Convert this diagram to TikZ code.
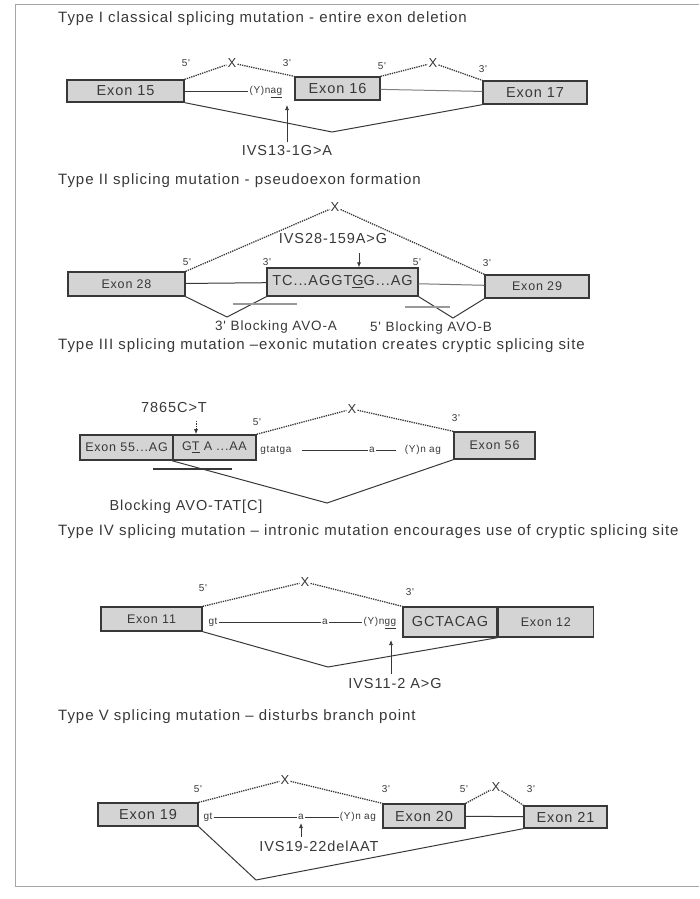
\documentclass[tikz,border=0pt]{standalone}
\usepackage{fontspec}
\newfontfamily\scanfont{Liberation Sans}[LetterSpace=6.5]
\usetikzlibrary{arrows.meta}
\definecolor{exfill}{gray}{0.83}
\definecolor{ink}{gray}{0.22}

\begin{document}
\begin{tikzpicture}[x=1pt,y=-1pt,
  every node/.style={text=ink},
  heading/.style={anchor=west,inner sep=0pt,font=\scanfont\fontsize{15}{18}\selectfont},
  lbl/.style={font=\scanfont\fontsize{14.5}{17}\selectfont},
  lbls/.style={font=\scanfont\fontsize{12.5}{15}\selectfont},
  site/.style={font=\scanfont\fontsize{10}{12}\selectfont,inner sep=1pt,text height=7pt,text depth=2pt},
  cut/.style={font=\scanfont\fontsize{13}{15}\selectfont,inner sep=1pt},
  exon/.style={draw=ink,line width=1.3pt,fill=exfill,inner sep=0pt,lbl},
  skipline/.style={draw=ink,densely dotted,line width=1.3pt},
  conn/.style={draw=ink,line width=1pt},
  mut/.style={draw=ink,line width=0.7pt,-{Latex[length=5pt,width=4pt]}}
]
\useasboundingbox (0,0) rectangle (699,899);
\draw[black!35,line width=0.8pt] (699,4) -- (15,4) -- (15,886) -- (699,886);

\node[heading] (t1) at (58,19) {Type I classical splicing mutation - entire exon deletion};
\node[heading] (t2) at (58,181) {Type II splicing mutation - pseudoexon formation};
\node[heading] (t3) at (58,346) {Type III splicing mutation –exonic mutation creates cryptic splicing site};
\node[heading] (t4) at (58,532) {Type IV splicing mutation – intronic mutation encourages use of cryptic splicing site};
\node[heading] (t5) at (58,717) {Type V splicing mutation – disturbs branch point};

\node[exon,minimum width=117,minimum height=22] (e15) at (125.5,91) {Exon 15};
\node[exon,minimum width=85,minimum height=23] (e16) at (337.5,88.5) {Exon 16};
\node[exon,minimum width=104,minimum height=23] (e17) at (535,92.5) {Exon 17};
\node[site] (p1a) at (186,64) {5'};
\node[cut] (x1a) at (232,63) {X};
\node[site] (p1b) at (287,64) {3'};
\node[site] (p1c) at (382,67) {5'};
\node[cut] (x1b) at (433,63) {X};
\node[site] (p1d) at (483,70) {3'};
\node[site] (yn1) at (266,91) {(Y)n\underline{ag}};
\node[lbl] (ivs1) at (287,151) {IVS13-1G>A};
\coordinate (a1) at (287,105);
\coordinate (v1) at (332,132);
\draw[skipline] (e15.north east) -- (x1a) -- (e16.north west);
\draw[skipline] (e16.north east) -- (x1b) -- (e17.north west);
\draw[conn] (e15.east) -- (yn1.west);
\draw[conn,draw=black!50] (e16) -- (e17);
\draw[conn] (e15.south east) -- (v1) -- (e17.south west);
\draw[mut] (ivs1.north -| a1) -- (a1);

\node[exon,lbls,minimum width=117,minimum height=24] (e28) at (126.5,284) {Exon 28};
\node[exon,minimum width=151,minimum height=28] (pse) at (342.5,282) {TC...AGGT\underline{G}G...AG};
\node[exon,lbls,minimum width=104,minimum height=23] (e29) at (537,286.5) {Exon 29};
\node[cut] (x2) at (335,207) {X};
\node[lbl] (ivs2) at (333,239) {IVS28-159A>G};
\node[site] (p2a) at (187,263) {5'};
\node[site] (p2b) at (267,263) {3'};
\node[site] (p2c) at (417,263) {5'};
\node[site] (p2d) at (487,264) {3'};
\coordinate (a2) at (359,253);
\coordinate (v2a) at (227,317);
\coordinate (v2b) at (453,318);
\draw[skipline] (e28.north east) -- (x2) -- (e29.north west);
\draw[mut] (a2) -- (a2 |- pse.north);
\draw[conn] (e28) -- (pse);
\draw[conn,draw=black!55] (pse) -- (e29);
\draw[conn] (e28.south east) -- (v2a) -- (pse.south west);
\draw[conn] (pse.south east) -- (v2b) -- (e29.south west);
\draw[line width=1.5pt,black!40] (233,304) -- (297,304);
\draw[line width=1.5pt,black!40] (405,307) -- (450,307);
\node[lbl,font=\scanfont\fontsize{13.5}{16}\selectfont] (b2a) at (276,327) {3' Blocking AVO-A};
\node[lbl,font=\scanfont\fontsize{13.5}{16}\selectfont] (b2b) at (431,328) {5' Blocking AVO-B};

\node[exon,lbls,minimum width=93,minimum height=25] (e55) at (126.5,447.5) {Exon 55...AG};
\node[exon,lbls,minimum width=83,minimum height=25,line width=1.6pt] (gta) at (214.5,447.5) {G\underline{T} A ...AA};
\node[exon,lbls,minimum width=81,minimum height=27] (e56) at (494.5,445.5) {Exon 56};
\node[lbl] (c3) at (174,408) {7865C>T};
\node[site] (p3a) at (257,423) {5'};
\node[cut] (x3) at (352,409) {X};
\node[site] (p3b) at (456,419) {3'};
\node[site] (gt3) at (276,450) {gtatga};
\node[site] (br3) at (372,450) {a};
\node[site] (yn3) at (423,450) {(Y)n ag};
\coordinate (a3) at (196,421);
\coordinate (v3) at (327,503);
\draw[skipline] (gta.north east) -- (x3) -- (e56.north west);
\draw[mut,densely dotted] (a3) -- (a3 |- gta.north);
\draw[conn,shorten <=9pt] (gt3) -- (br3);
\draw[conn,shorten >=8pt] (br3) -- (yn3);
\draw[conn] (gta.south west) -- (v3) -- (e56.south west);
\draw[line width=1.4pt,ink] (153,469) -- (232,469);
\node[lbl] (b3) at (186,507) {Blocking AVO-TAT[C]};

\node[exon,lbls,minimum width=101,minimum height=24] (e11) at (151.5,619) {Exon 11};
\node[exon,minimum width=94,minimum height=30] (gct) at (450,622) {GCTACAG};
\node[exon,lbls,minimum width=95,minimum height=30,anchor=west] (e12) at (gct.east) {Exon 12};
\node[site] (p4a) at (203,589) {5'};
\node[cut] (x4) at (305,582) {X};
\node[site] (p4b) at (410,593) {3'};
\node[site] (gt4) at (213,622) {gt};
\node[site] (br4) at (325,622) {a};
\node[site] (yn4) at (380,622) {(Y)n\underline{gg}};
\node[lbl] (ivs4) at (395,683) {IVS11-2 A>G};
\coordinate (a4) at (391,640);
\coordinate (v4) at (328,667);
\draw[skipline] (e11.north east) -- (x4) -- (gct.north west);
\draw[conn] (gt4) -- (br4) -- (yn4);
\draw[conn] (e11.south east) -- (v4) -- (gct.south east);
\draw[mut] (ivs4.north -| a4) -- (a4);

\node[exon,minimum width=100,minimum height=23] (e19) at (148,814.5) {Exon 19};
\node[exon,minimum width=82,minimum height=24] (e20) at (424,816) {Exon 20};
\node[exon,minimum width=83,minimum height=22] (e21) at (565.5,817) {Exon 21};
\node[site] (p5a) at (198,790) {5'};
\node[cut] (x5a) at (285,780) {X};
\node[site] (p5b) at (386,790) {3'};
\node[site] (p5c) at (464,790) {5'};
\node[cut] (x5b) at (496,787) {X};
\node[site] (p5d) at (531,790) {3'};
\node[site] (gt5) at (208,817) {gt};
\node[site] (br5) at (301,817) {a};
\node[site] (yn5) at (358,817) {(Y)n ag};
\node[lbl] (ivs5) at (319,846) {IVS19-22delAAT};
\coordinate (a5) at (301,823);
\coordinate (v5) at (256,880);
\draw[skipline] (e19.north east) -- (x5a) -- (e20.north west);
\draw[skipline] (e20.north east) -- (x5b) -- (e21.north west);
\draw[conn] (gt5) -- (br5) -- (yn5);
\draw[conn] (e20) -- (e21);
\draw[conn] (e19.south east) -- (v5) -- (e21.south west);
\draw[mut] (ivs5.north -| a5) -- (a5);
\end{tikzpicture}
\end{document}
